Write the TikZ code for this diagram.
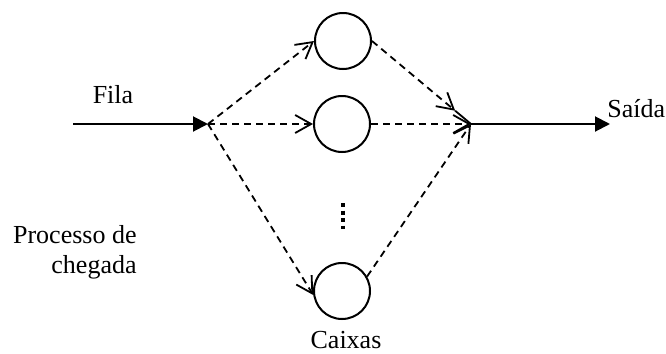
\documentclass[tikz,border=0pt]{standalone}
\usepackage{fontspec}
\setmainfont{Liberation Serif}
\usetikzlibrary{arrows.meta,calc}
\begin{document}
\begin{tikzpicture}[x=0.5pt,y=-0.5pt,
  every node/.style={font=\fontsize{13}{15.5}\selectfont, inner sep=0pt},
  flow/.style={line width=1pt, -{Triangle[length=7.5pt,width=7.5pt]}},
  route/.style={line width=0.9pt, dash pattern=on 3.5pt off 2.5pt,
    -{Straight Barb[length=8pt,width=9pt,line width=0.9pt]}},
  server/.style={circle, draw, line width=1pt, minimum size=28pt, inner sep=0pt},
]
\useasboundingbox (0,0) rectangle (666,354);

% junction points of the queue
\coordinate (in)  at (73,124);
\coordinate (J)   at (208,124);
\coordinate (K)   at (471,124);
\coordinate (out) at (610,124);

% service desks
\node[server] (c1) at (343,41) {};
\node[server] (c2) at (342,124) {};
\node[server] (c3) at (342,291) {};

% arrival and departure
\draw[flow] (in) -- (J);
\draw[flow] (K) -- (out);

% routing to the desks
\draw[route] (J) -- (c1.west);
\draw[route] (J) -- (c2.west);
\draw[route] (J) -- (c3.188);

% routing from the desks to the exit
\coordinate (T) at ($(c1.east)!0.84!(K)$);
\draw[route] (c1.east) -- (T);
\draw[line width=0.9pt] (T) -- (K);
\draw[route] (c2.east) -- (K);
\draw[route] (c3.30) -- (K);

% vertical ellipsis between the desks
\draw[line width=2pt, dash pattern=on 2pt off 1.75pt] (343,203) -- (343,229);

% labels
\node[anchor=base] (fila) at (113,103) {Fila};
\node[anchor=base west] (saida) at (607,117) {Saída};
\node[anchor=base east] (proc1) at (137,243) {Processo de};
\node[anchor=base east] (proc2) at (137,273) {chegada};
\node[anchor=base] (caixas) at (346,348) {Caixas};
\end{tikzpicture}
\end{document}
